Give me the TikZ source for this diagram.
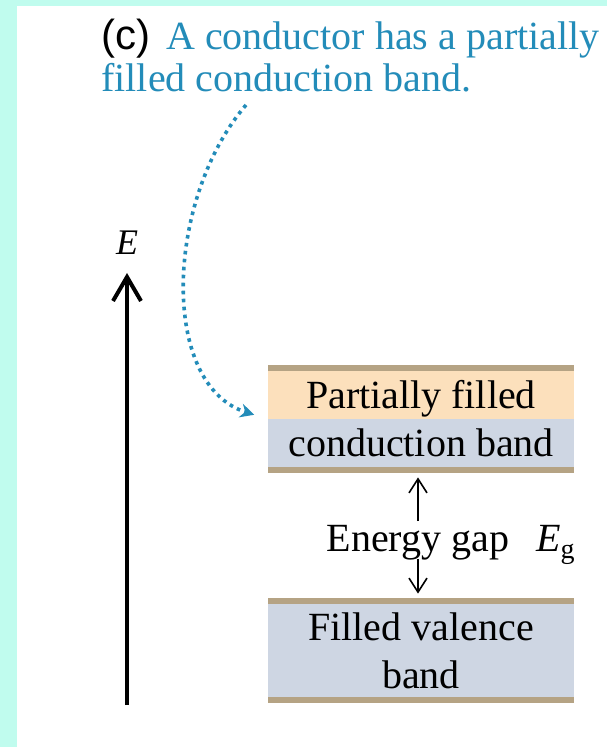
\documentclass[tikz,border=0pt]{standalone}
\usepackage{fontspec}
\setmainfont{Liberation Serif}
\setsansfont{Liberation Sans}
\usepackage{xcolor}
\usepackage{tikz}
\usetikzlibrary{arrows.meta,positioning}
\definecolor{bgcyan}{RGB}{192,252,238}
\definecolor{captionblue}{RGB}{35,140,185}
\definecolor{bandorange}{RGB}{252,224,188}
\definecolor{bandgray}{RGB}{206,214,227}
\definecolor{bandedge}{RGB}{181,163,132}

\begin{document}
\begin{tikzpicture}[x=0.5pt, y=-0.5pt,
  band/.style={minimum width=153pt, inner sep=0pt, fill=bandgray, align=center,
               font=\fontsize{20}{24}\selectfont,
               path picture={
                 \fill[#1] (path picture bounding box.north west) rectangle (path picture bounding box.east);
                 \draw[bandedge, line width=3pt]
                   ([yshift=-1.5pt]path picture bounding box.north west) -- ([yshift=-1.5pt]path picture bounding box.north east)
                   ([yshift=1.5pt]path picture bounding box.south west) -- ([yshift=1.5pt]path picture bounding box.south east);}},
  caption/.style={font=\fontsize{20}{21}\selectfont, text=captionblue, align=left, inner sep=0pt},
  lbl/.style={font=\fontsize{20}{24}\selectfont, inner sep=1pt},
  axis/.style={line width=2pt, -{Straight Barb[length=12pt, width=14pt]}},
  gaparrow/.style={line width=0.8pt, -{Straight Barb[length=7pt, width=9pt]}, shorten >=2pt},
  pointer/.style={captionblue, line width=1.8pt, dash pattern=on 1.8pt off 2.2pt,
                  -{Stealth[length=7pt, width=7pt]}, shorten >=7pt},
]
  % ---- Background ----
  \fill[bgcyan] (0,0) rectangle (607,747);
  \fill[white] (17,6) rectangle (607,747);

  % ---- Caption (base = second line) ----
  \node[caption, anchor=base west] (title) at (101,92)
    {{\color{black}\sffamily\fontsize{21}{21}\selectfont (c)}\hspace{3pt} A conductor has a partially\\filled conduction band.};
  \coordinate (ptr) at (246,105);

  % ---- Energy axis ----
  \coordinate (ebase) at (127,705);
  \coordinate (etop) at (127,273);
  \node[lbl, font=\fontsize{18}{20}\selectfont] (elabel) at (127,243) {\textit{E}};

  % ---- Bands ----
  \node[band=bandorange, minimum height=54pt] (cb) at (421,419) {Partially filled\\conduction band};
  \node[band=bandgray, minimum height=52.5pt] (vb) at (421,650.5) {\raisebox{0pt}[\height][0pt]{Filled valence}\\band};

  % ---- Gap ----
  \node[lbl] (gap) at (418,543) {Energy gap};
  \node[lbl, anchor=base west, xshift=11pt] (eg) at (gap.base east) {\textit{E}\textsubscript{g}};

  % ---- Arrows ----
  \draw[axis] (ebase) -- (etop);
  \draw[gaparrow] ([yshift=1pt]gap.north) -- (gap.north |- cb.south);
  \draw[gaparrow] ([yshift=2pt]gap.south) -- (gap.south |- vb.north);
  \draw[pointer] (ptr) .. controls +(-81,95) and +(-108,-34) .. (cb.west);
\end{tikzpicture}
\end{document}
